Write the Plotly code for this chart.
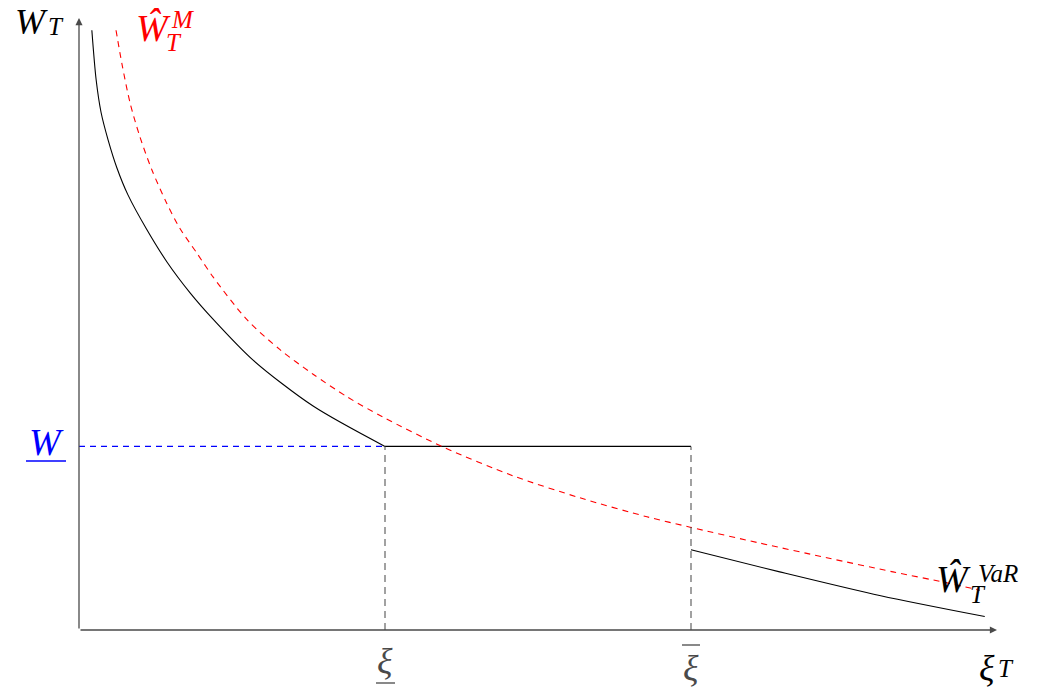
import plotly.graph_objects as go

# ---- data (axis units: xi 0..30, W 0..10) ----
xi_low = 10.0          # underline xi
xi_high = 20.0         # overline xi
w_floor = 3.0          # underline W
x_end = 30.0
y_end = 10.0

xi_left = [0.42, 0.56, 0.72, 0.95, 1.24, 1.60, 2.22, 2.88, 3.63, 4.38, 5.69, 7.65, 10.0]
w_left = [9.80, 8.99, 8.46, 8.01, 7.55, 7.11, 6.54, 6.01, 5.51, 5.08, 4.41, 3.66, 3.0]

xi_flat = [10.0, 20.0]
w_flat = [3.0, 3.0]

xi_right = [20.0, 22.9, 26.2, 29.6]
w_right = [1.31, 0.95, 0.56, 0.22]

xi_merton = [1.21, 1.40, 1.67, 1.99, 2.38, 2.87, 3.30, 3.85, 4.38, 5.49, 6.57,
             7.65, 8.76, 9.93, 11.90, 14.18, 16.37, 18.56, 19.97, 22.25, 24.44,
             26.60, 28.37, 29.44]
w_merton = [9.80, 9.26, 8.61, 8.06, 7.52, 6.97, 6.56, 6.16, 5.77, 5.07, 4.58,
            4.18, 3.81, 3.48, 2.99, 2.52, 2.16, 1.85, 1.68, 1.42, 1.18,
            0.95, 0.77, 0.65]

# ---- figure geometry ----
W, H = 1044, 691
L, R, T, B = 79, 47, 18, 61
PW, PH = W - L - R, H - T - B


def pxp(x):
    return (x - L) / PW


def pyp(y):
    return (H - B - y) / PH


FONT = "Liberation Serif"
AX = "#4a4a4a"

fig = go.Figure()

fig.add_trace(go.Scatter(x=xi_left, y=w_left, mode="lines",
                         line=dict(color="black", width=1.1, shape="spline", smoothing=0.8),
                         hoverinfo="skip", showlegend=False))
fig.add_trace(go.Scatter(x=xi_flat, y=w_flat, mode="lines",
                         line=dict(color="black", width=1.1),
                         hoverinfo="skip", showlegend=False))
fig.add_trace(go.Scatter(x=xi_right, y=w_right, mode="lines",
                         line=dict(color="black", width=1.1, shape="spline", smoothing=0.8),
                         hoverinfo="skip", showlegend=False))
fig.add_trace(go.Scatter(x=xi_merton, y=w_merton, mode="lines",
                         line=dict(color="red", width=1.1, dash="6px,5px", shape="spline", smoothing=0.8),
                         hoverinfo="skip", showlegend=False))
# blue guide
fig.add_trace(go.Scatter(x=[0, xi_low], y=[w_floor, w_floor], mode="lines",
                         line=dict(color="blue", width=1.1, dash="6px,5px"),
                         hoverinfo="skip", showlegend=False))
# gray verticals
for xv in (xi_low, xi_high):
    fig.add_trace(go.Scatter(x=[xv, xv], y=[0, w_floor], mode="lines",
                             line=dict(color="#555555", width=1.1, dash="7px,5px"),
                             hoverinfo="skip", showlegend=False))

ann = []
# axes with arrows
ann.append(dict(x=x_end, y=0, ax=0, ay=0, xref="x", yref="y", axref="x", ayref="y",
                showarrow=True, arrowhead=2, arrowsize=1.1, arrowwidth=1.3, arrowcolor=AX,
                text="", standoff=0, startstandoff=0))
ann.append(dict(x=0, y=y_end, ax=0, ay=0, xref="x", yref="y", axref="x", ayref="y",
                showarrow=True, arrowhead=2, arrowsize=1.1, arrowwidth=1.3, arrowcolor=AX,
                text="", standoff=0, startstandoff=0))


def label(text, xp, yp, size, color="black", yanchor="middle"):
    ann.append(dict(x=pxp(xp), y=pyp(yp), xref="paper", yref="paper", text=text,
                    showarrow=False, xanchor="center", yanchor=yanchor,
                    font=dict(family=FONT, size=size, color=color)))


BIG, SUB, XI = 38, 25, 36
# W_T
label("<i>W</i>", 31, 0, 36, yanchor="top")
label("<i>T</i>", 56, 27, SUB)
# hat W^M_T red
label("<i>Ŵ</i>", 153, 28, BIG, "red")
label("<i>M</i>", 182, 20, SUB, "red")
label("<i>T</i>", 174, 43, SUB, "red")
# hat W^VaR_T
label("<i>Ŵ</i>", 953, 579, BIG)
label("<i>VaR</i>", 998, 573, SUB)
label("<i>T</i>", 978, 594, SUB)
# underline W
label("<i>W</i>", 46, 442, BIG, "blue")
# xi labels
label("<i>ξ</i>", 385, 661, XI, AX)
label("<i>ξ</i>", 691, 668, XI, AX)
label("<i>ξ</i>", 987, 668, XI)
label("<i>T</i>", 1006, 668, SUB)

shapes = [
    dict(type="line", xref="paper", yref="paper", x0=pxp(26), x1=pxp(66), y0=pyp(461), y1=pyp(461),
         line=dict(color="blue", width=1.3)),
    dict(type="line", xref="paper", yref="paper", x0=pxp(376), x1=pxp(395), y0=pyp(683), y1=pyp(683),
         line=dict(color=AX, width=1.3)),
    dict(type="line", xref="paper", yref="paper", x0=pxp(682), x1=pxp(700), y0=pyp(645), y1=pyp(645),
         line=dict(color=AX, width=1.3)),
]

fig.update_layout(
    width=W, height=H, margin=dict(l=L, r=R, t=T, b=B),
    paper_bgcolor="white", plot_bgcolor="white",
    xaxis=dict(range=[0, x_end], visible=False, fixedrange=True),
    yaxis=dict(range=[0, y_end], visible=False, fixedrange=True),
    annotations=ann, shapes=shapes, showlegend=False,
)

fig.write_html("out.html", config={"displayModeBar": False})
